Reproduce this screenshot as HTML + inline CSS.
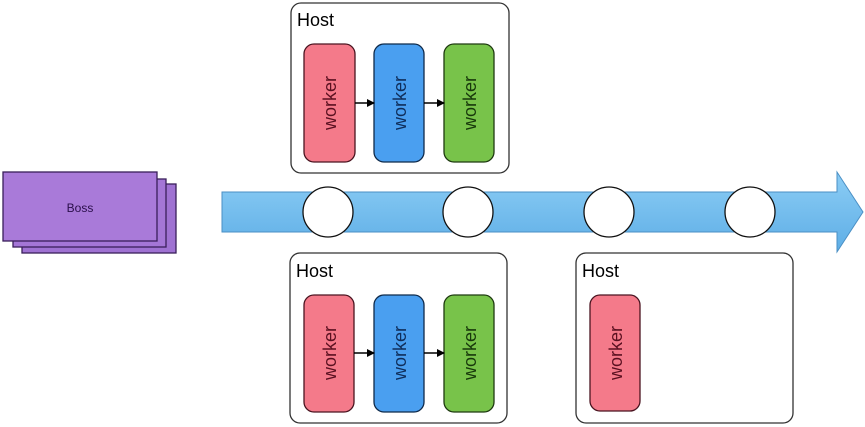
<!DOCTYPE html>
<html><head><meta charset="utf-8"><style>html,body{margin:0;padding:0;background:#fff}svg{display:block}</style></head>
<body>
<svg width="865" height="427" viewBox="0 0 865 427" xmlns="http://www.w3.org/2000/svg" font-family="Liberation Sans, sans-serif">
<defs>
<linearGradient id="ag" x1="0" y1="0" x2="0" y2="1">
<stop offset="0" stop-color="#8ccdf5"/><stop offset="1" stop-color="#5eaee6"/>
</linearGradient>
<marker id="ah" markerWidth="8" markerHeight="8" refX="7" refY="4" orient="auto" markerUnits="userSpaceOnUse">
<path d="M0,0 L8,4 L0,8 z" fill="#000"/></marker>
</defs>
<!-- Boss -->
<rect x="22" y="184" width="154" height="69" fill="#9f72d2" stroke="#3a1f5a" stroke-width="1.3"/>
<rect x="13" y="179" width="153" height="68" fill="#a476d6" stroke="#3a1f5a" stroke-width="1.3"/>
<rect x="3" y="172" width="154" height="69" fill="#a97ad9" stroke="#3a1f5a" stroke-width="1.3"/>
<text x="80" y="212" font-size="12" fill="#2a0f4a" text-anchor="middle">Boss</text>
<!-- Arrow -->
<path d="M222,192 L837,192 L837,172 L863,212 L837,252 L837,232 L222,232 Z" fill="url(#ag)" stroke="#4a8fc4" stroke-width="1"/>
<g fill="#fff" stroke="#111" stroke-width="1.3">
<circle cx="328" cy="212" r="25"/><circle cx="468" cy="212" r="25"/>
<circle cx="609" cy="212" r="25"/><circle cx="750" cy="212" r="25"/>
</g>
<!-- Hosts -->
<g fill="#fff" stroke="#333" stroke-width="1.3">
<rect x="291" y="3" width="218" height="170" rx="10"/>
<rect x="290" y="253" width="217" height="170" rx="10"/>
<rect x="576" y="253" width="217" height="170" rx="10"/>
</g>
<g font-size="18" fill="#000">
<text x="297" y="26">Host</text><text x="296" y="277">Host</text><text x="582" y="277">Host</text>
</g>
<!-- Top workers -->
<g stroke-width="1.3">
<rect x="304" y="44" width="51" height="118" rx="10" fill="#f47a8a" stroke="#4a1420"/>
<rect x="374" y="44" width="50" height="118" rx="10" fill="#4a9ff0" stroke="#0f2a4a"/>
<rect x="444" y="44" width="50" height="118" rx="10" fill="#78c34a" stroke="#1e3a10"/>
<rect x="304" y="295" width="50" height="117" rx="10" fill="#f47a8a" stroke="#4a1420"/>
<rect x="374" y="295" width="50" height="117" rx="10" fill="#4a9ff0" stroke="#0f2a4a"/>
<rect x="444" y="295" width="50" height="117" rx="10" fill="#78c34a" stroke="#1e3a10"/>
<rect x="590" y="295" width="50" height="116" rx="10" fill="#f47a8a" stroke="#4a1420"/>
</g>
<g stroke="#000" stroke-width="1.5" marker-end="url(#ah)">
<line x1="355" y1="103" x2="374" y2="103"/><line x1="424" y1="103" x2="444" y2="103"/>
<line x1="354" y1="353" x2="374" y2="353"/><line x1="424" y1="353" x2="444" y2="353"/>
</g>
<g font-size="18" text-anchor="middle">
<text transform="translate(336,103) rotate(-90)" fill="#5a1020">worker</text>
<text transform="translate(406,103) rotate(-90)" fill="#0f2d5a">worker</text>
<text transform="translate(476,103) rotate(-90)" fill="#17380b">worker</text>
<text transform="translate(336,353) rotate(-90)" fill="#5a1020">worker</text>
<text transform="translate(406,353) rotate(-90)" fill="#0f2d5a">worker</text>
<text transform="translate(476,353) rotate(-90)" fill="#17380b">worker</text>
<text transform="translate(622,353) rotate(-90)" fill="#5a1020">worker</text>
</g>
</svg>
</body></html>
